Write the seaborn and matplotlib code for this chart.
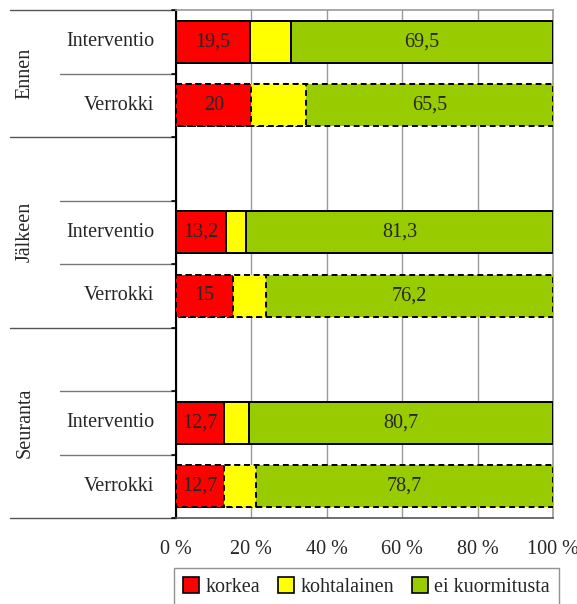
import matplotlib
matplotlib.use("Agg")
import matplotlib.pyplot as plt
import matplotlib.patches as mpatches
import seaborn as sns
import pandas as pd
import numpy as np

groups = ["Ennen", "Ennen", "Jälkeen", "Jälkeen", "Seuranta", "Seuranta"]
subgroups = ["Interventio", "Verrokki", "Interventio", "Verrokki", "Interventio", "Verrokki"]
korkea = [19.5, 20.0, 13.2, 15.0, 12.7, 12.7]
kohtalainen = [11.0, 14.5, 5.5, 8.8, 6.6, 8.6]
ei_kuormitusta = [69.5, 65.5, 81.3, 76.2, 80.7, 78.7]
series_names = ["korkea", "kohtalainen", "ei kuormitusta"]
colors = ["#FF0000", "#FFFF00", "#99CC00"]
x_ticks = [0, 20, 40, 60, 80, 100]
x_ticklabels = ["0 %", "20 %", "40 %", "60 %", "80 %", "100 %"]

# Row order including blank spacer rows
order = ["Ennen|Interventio", "Ennen|Verrokki",
         "Jälkeen|", "Jälkeen|Interventio", "Jälkeen|Verrokki",
         "Seuranta|", "Seuranta|Interventio", "Seuranta|Verrokki"]

df = pd.DataFrame({
    "key": [g + "|" + s for g, s in zip(groups, subgroups)],
    "group": groups,
    "sub": subgroups,
    "korkea": korkea,
    "kohtalainen": kohtalainen,
    "ei": ei_kuormitusta,
})
df["c1"] = df["korkea"]
df["c2"] = df["korkea"] + df["kohtalainen"]
df["c3"] = df["korkea"] + df["kohtalainen"] + df["ei"]

sns.set_style("white")
plt.rcParams["font.family"] = ["Liberation Serif", "DejaVu Serif"]
FS = 14.5

fig = plt.figure(figsize=(5.77, 6.04), dpi=100)
ax = fig.add_axes([176/577, 1 - 518/604, (553-176)/577, (518-10)/604])

bar_h = 0.66
for col, color in zip(["c3", "c2", "c1"], colors[::-1]):
    sns.barplot(data=df, y="key", x=col, order=order, orient="y", color=color,
                width=bar_h, edgecolor="black", linewidth=1.4, saturation=1,
                errorbar=None, ax=ax, zorder=3)

# dashed edges for Verrokki bars
pos_map = {k: i for i, k in enumerate(order)}
verrokki_pos = [pos_map[k] for k in df["key"] if k.endswith("Verrokki")]
for p in ax.patches:
    yc = p.get_y() + p.get_height() / 2
    if any(abs(yc - vp) < 0.1 for vp in verrokki_pos):
        p.set_linestyle((0, (3, 2)))

# value labels (korkea and ei kuormitusta)
for _, r in df.iterrows():
    yi = pos_map[r["key"]]
    ax.text(r["korkea"] / 2, yi, f"{r['korkea']:g}".replace(".", ","),
            ha="center", va="center", fontsize=FS, zorder=5)
    ax.text(r["c2"] + r["ei"] / 2, yi, f"{r['ei']:g}".replace(".", ","),
            ha="center", va="center", fontsize=FS, zorder=5)

ax.set_xlim(0, 100)
ax.set_ylim(len(order) - 0.5, -0.5)
ax.set_xticks(x_ticks)
ax.set_xticklabels(x_ticklabels, fontsize=FS)
ax.tick_params(axis="x", direction="out", length=4, width=1, color="black", pad=12)
ax.set_yticks([])
ax.set_xlabel("")
ax.set_ylabel("")
ax.xaxis.grid(True, color="#999999", linewidth=1, zorder=0)
ax.set_axisbelow(True)
for s in ["top", "right"]:
    ax.spines[s].set_color("#999999")
    ax.spines[s].set_linewidth(1.2)
ax.spines["left"].set_color("black")
ax.spines["left"].set_linewidth(1.5)
ax.spines["bottom"].set_color("#555555")
ax.spines["bottom"].set_linewidth(1.2)

# multi-level category axis
trans = matplotlib.transforms.blended_transform_factory(ax.transAxes, ax.transData)
x_inner = (60 - 176) / 377
x_outer = (10 - 176) / 377
x_tick = -4 / 377
group_bounds = [-0.5, 1.5, 4.5, 7.5]
for i in range(len(order) + 1):
    yb = i - 0.5
    if yb in group_bounds:
        ax.plot([x_outer, 0], [yb, yb], color="#555555", lw=1, transform=trans, clip_on=False)
    else:
        ax.plot([x_inner, 0], [yb, yb], color="#777777", lw=1, transform=trans, clip_on=False)
    ax.plot([x_tick, 0], [yb, yb], color="black", lw=1.2, transform=trans, clip_on=False)

for k, i in pos_map.items():
    g, s = k.split("|")
    if s:
        ax.text(-22 / 377, i, s, ha="right", va="center", fontsize=FS, transform=trans)

group_names = ["Ennen", "Jälkeen", "Seuranta"]
group_centers = [0.5, 3, 6]
for g, c in zip(group_names, group_centers):
    ax.text((25 - 176) / 377, c, g, ha="center", va="center", rotation=90,
            fontsize=FS, transform=trans)

handles = [mpatches.Patch(facecolor=c, edgecolor="black", linewidth=1.2, label=n)
           for c, n in zip(colors, series_names)]
leg = fig.legend(handles=handles, loc="lower center", ncol=3,
                 bbox_to_anchor=((178 + 555) / 2 / 577, -0.02), fontsize=FS,
                 frameon=True, fancybox=False, edgecolor="#777777",
                 handlelength=0.8, handleheight=0.8, handletextpad=0.3,
                 columnspacing=0.9, borderpad=0.45)
leg.get_frame().set_linewidth(1)

fig.savefig("out.png", dpi=100)
